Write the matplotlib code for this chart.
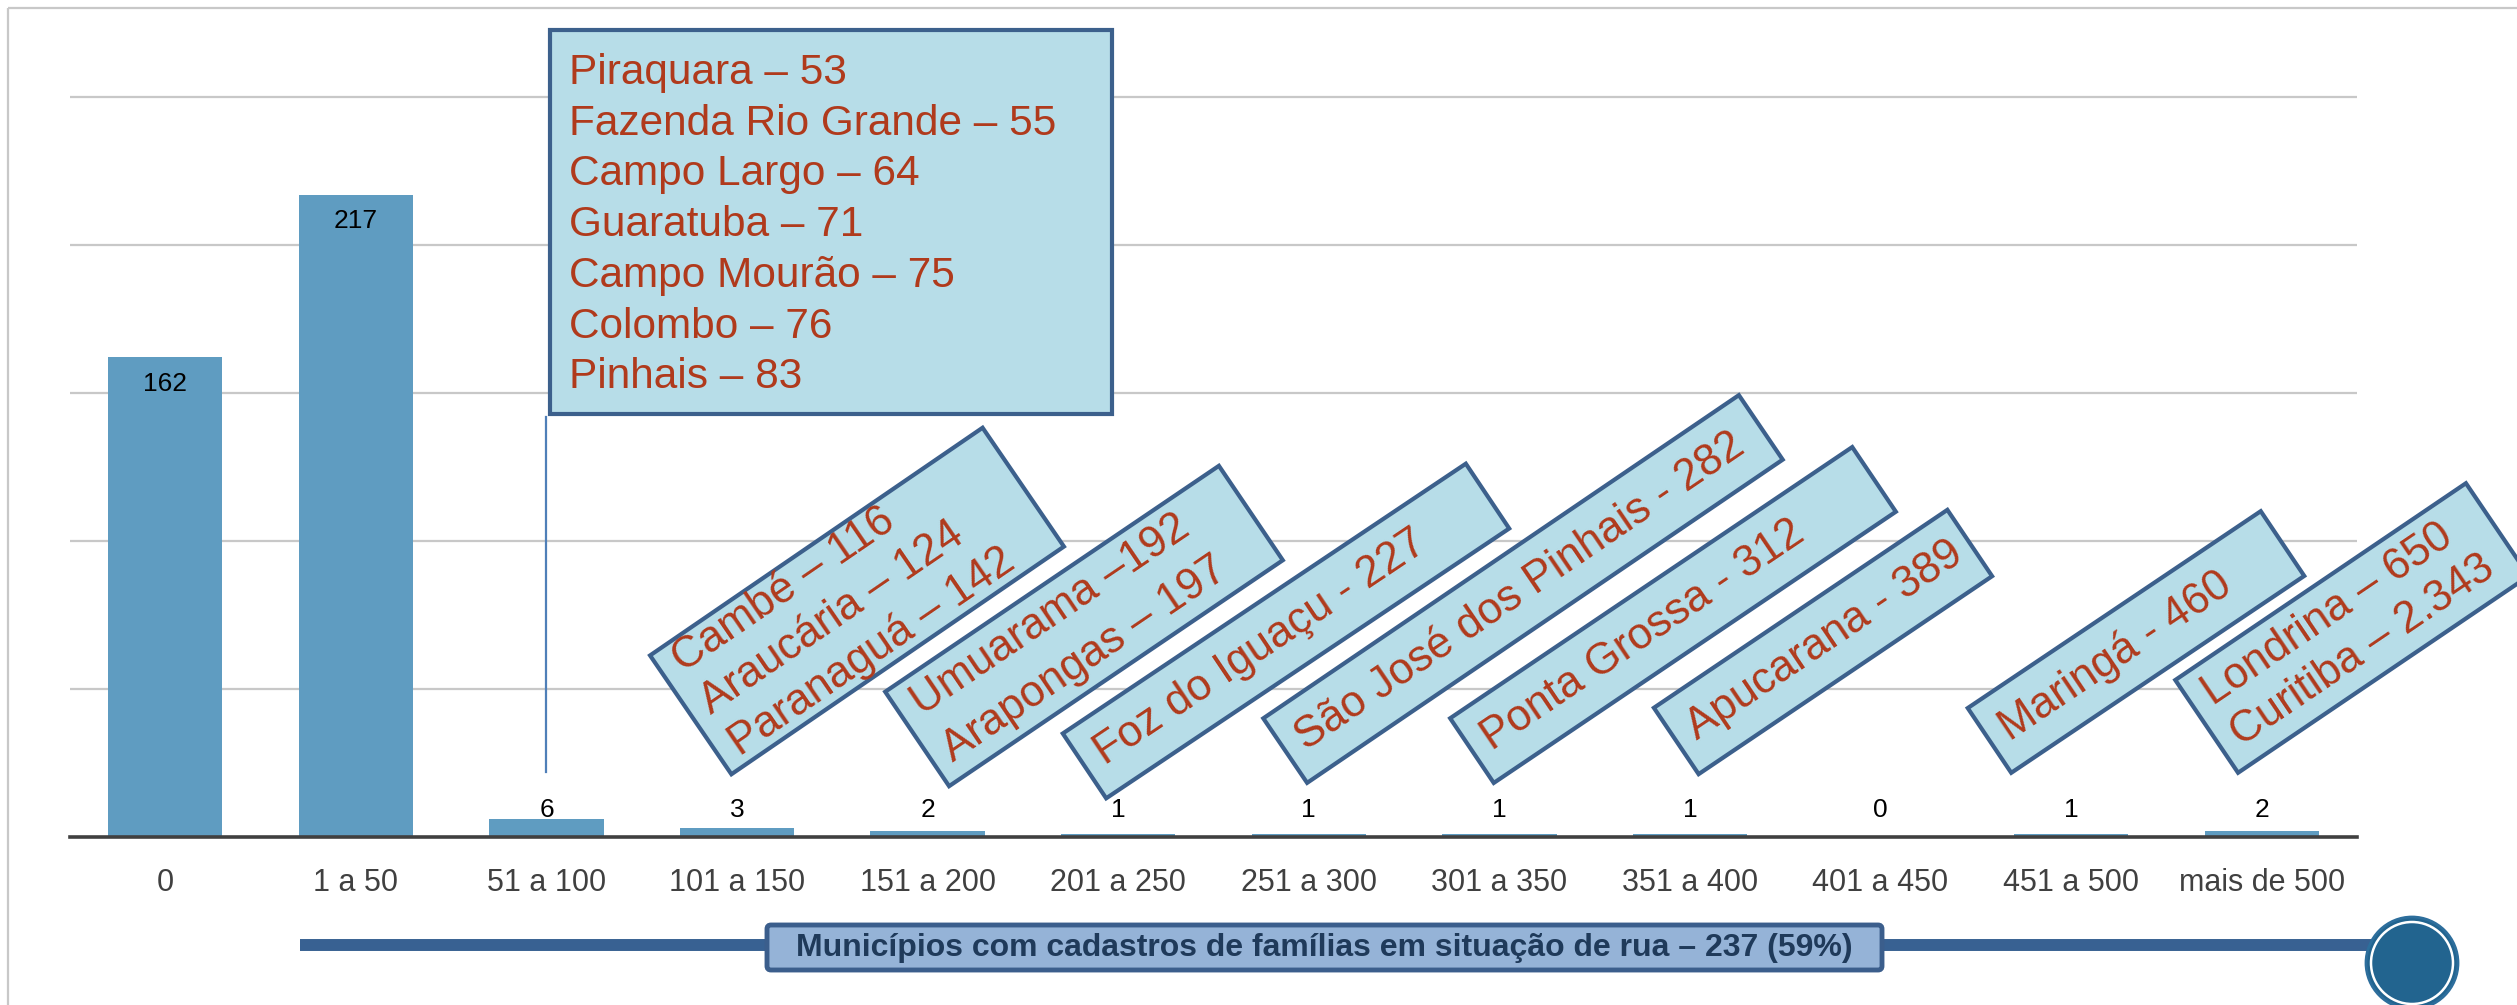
import numpy as np
import matplotlib
matplotlib.use("Agg")
import matplotlib.pyplot as plt
from matplotlib.patches import Polygon, Rectangle, Circle, FancyBboxPatch

plt.rcParams['font.family'] = ['Liberation Sans', 'DejaVu Sans']

# data
categories = ['0', '1 a 50', '51 a 100', '101 a 150', '151 a 200', '201 a 250',
              '251 a 300', '301 a 350', '351 a 400', '401 a 450', '451 a 500', 'mais de 500']
counts = [162, 217, 6, 3, 2, 1, 1, 1, 1, 0, 1, 2]

top_cities = ['Piraquara – 53', 'Fazenda Rio Grande – 55', 'Campo Largo – 64',
              'Guaratuba – 71', 'Campo Mourão – 75', 'Colombo – 76', 'Pinhais – 83']
tilted_cities = [
    ['Cambé – 116', 'Araucária – 124', 'Paranaguá – 142'],
    ['Umuarama –192', 'Arapongas – 197'],
    ['Foz do Iguaçu - 227'],
    ['São José dos Pinhais - 282'],
    ['Ponta Grossa - 312'],
    ['Apucarana - 389'],
    ['Maringá - 460'],
    ['Londrina – 650', 'Curitiba – 2.343'],
]
footer = 'Municípios com cadastros de famílias em situação de rua – 237 (59%)'

# layout of the tilted boxes in pixels: centre x, centre y, width, height, angle, line step
tilted_layout = [
    (857, 601, 403, 144, 34.4, 50),
    (1084, 626, 403, 114, 34.1, 56),
    (1286, 631, 485, 78, 33.8, 0),
    (1523, 589, 575, 78, 34.2, 0),
    (1673, 615, 485, 78, 34.0, 0),
    (1823, 642, 354, 80, 34.0, 0),
    (2136, 642, 353, 78, 33.9, 0),
    (2352, 628, 351, 112, 34.1, 50),
]

W, H = 2517, 1005
box_fill = '#b7dde8'
box_edge = '#3c608c'
red_text = '#b03a1c'

fig = plt.figure(figsize=(W / 100, H / 100), dpi=100)
fig.patch.set_facecolor('white')

ax = fig.add_axes([70 / W, (H - 837) / H, (2357 - 70) / W, 252 * 2.96 / H])
x = np.arange(len(categories))
ax.bar(x, counts, width=0.6, color='#5f9cc1', zorder=3)
ax.set_xlim(-0.5, len(categories) - 0.5)
ax.set_ylim(0, 252)
ax.set_yticks([50, 100, 150, 200, 250])
ax.yaxis.grid(True, color='#c8c8c8', lw=1.6, zorder=0)
ax.set_axisbelow(True)
ax.set_yticklabels([])
ax.tick_params(axis='y', length=0)
ax.set_xticks(x)
ax.set_xticklabels(categories, fontsize=22, color='#404040')
ax.tick_params(axis='x', length=0, pad=22)
for s in ['top', 'left', 'right']:
    ax.spines[s].set_visible(False)
ax.spines['bottom'].set_color('#404040')
ax.spines['bottom'].set_linewidth(2.6)
ax.spines['bottom'].set_zorder(4)

for i, v in enumerate(counts):
    ax.text(i, max(v - 9, 9), str(v), ha='center', va='center', fontsize=19,
            color='black', zorder=5)

# connector from the top box down to the 51 a 100 bar
ax.plot([2, 2], [22, 142], color='#4f7fb8', lw=1.6, zorder=4, clip_on=False)

# overlay in pixel coordinates for the callouts
ov = fig.add_axes([0, 0, 1, 1], zorder=10)
ov.set_xlim(0, W)
ov.set_ylim(H, 0)
ov.axis('off')
ov.patch.set_alpha(0)

# outer frame (runs past the right and bottom edges)
ov.add_patch(Rectangle((8, 8), 2560, 1060, fill=False, ec='#c8c8c8', lw=1.6))

# top box
ov.add_patch(Rectangle((550, 30), 562, 384, fc=box_fill, ec=box_edge, lw=3))
for i, t in enumerate(top_cities):
    ov.text(569, 73 + 50.7 * i, t, ha='left', va='center', fontsize=30.5, color=red_text)

# tilted boxes
for lines, (cx, cy, bw, bh, ang, step) in zip(tilted_cities, tilted_layout):
    a = np.radians(ang)
    u = np.array([np.cos(a), -np.sin(a)])
    v = np.array([np.sin(a), np.cos(a)])
    c = np.array([cx, cy])
    corners = [c - u * bw / 2 - v * bh / 2, c + u * bw / 2 - v * bh / 2,
               c + u * bw / 2 + v * bh / 2, c - u * bw / 2 + v * bh / 2]
    ov.add_patch(Polygon(corners, closed=True, fc=box_fill, ec=box_edge, lw=3))
    n = len(lines)
    for k, t in enumerate(lines):
        p = c - u * (bw / 2 - 17) + v * (k - (n - 1) / 2) * step
        ov.text(p[0], p[1], t, ha='left', va='center', rotation=ang,
                rotation_mode='anchor', fontsize=31.5, color=red_text)

# footer bar
ov.plot([300, 2380], [945, 945], color='#386192', lw=8.6, solid_capstyle='butt', zorder=1)
ov.add_patch(FancyBboxPatch((767, 925), 1115, 45, boxstyle='round,pad=0,rounding_size=4',
                            fc='#95b3d7', ec='#3b5e8c', lw=3.5, zorder=2))
ov.text(1324, 948, footer, ha='center', va='center', fontsize=23, fontweight='bold',
        color='#1f3a5a', zorder=3)
ov.add_patch(Circle((2412, 963), 46, fc='#22648f', ec='#2d6e9c', lw=2, zorder=2))
ov.add_patch(Circle((2412, 963), 41, fill=False, ec='white', lw=1.8, zorder=3))

fig.savefig('out.png', dpi=100)
